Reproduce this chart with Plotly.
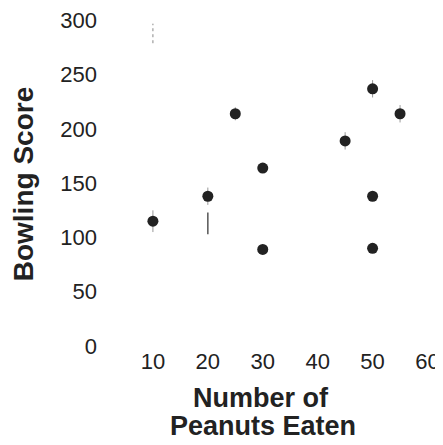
import plotly.graph_objects as go

peanuts = [10, 20, 25, 30, 30, 45, 50, 50, 50, 55]
scores = [115, 138, 214, 164, 89, 189, 237, 138, 90, 214]
# faint whiskers visible around some points
whisker = [10, 8, 6, 0, 0, 8, 8, 0, 0, 8]

# stray vertical marks visible in the figure
mark1_x = [10, 10]
mark1_y = [279, 297]
mark2_x = [20, 20]
mark2_y = [103, 123]

x_ticks = [10, 20, 30, 40, 50, 60]
y_ticks = [0, 50, 100, 150, 200, 250, 300]

x_title_lines = ["Number of", "Peanuts Eaten"]
y_title = "Bowling Score"

fig = go.Figure()
fig.add_trace(go.Scatter(x=mark1_x, y=mark1_y, mode="lines",
                         line=dict(color="#888888", width=1, dash="dot"),
                         showlegend=False, hoverinfo="skip"))
fig.add_trace(go.Scatter(x=mark2_x, y=mark2_y, mode="lines",
                         line=dict(color="#555555", width=1.5),
                         showlegend=False, hoverinfo="skip"))
fig.add_trace(go.Scatter(x=peanuts, y=scores, mode="markers",
                         marker=dict(color="#222222", size=11),
                         error_y=dict(type="data", array=whisker, visible=True,
                                      color="#999999", thickness=1, width=0),
                         showlegend=False))

fig.update_layout(
    width=435, height=437,
    margin=dict(l=89.5, r=10, t=7, b=99.3),
    plot_bgcolor="white", paper_bgcolor="white",
    font=dict(family="Liberation Sans, Arial, sans-serif", color="#222222"),
)
fig.update_xaxes(range=[0, 61], tickvals=x_ticks, showgrid=False, zeroline=False,
                 showline=False, ticks="", tickfont=dict(size=22), automargin=False)
fig.update_yaxes(range=[0, 305], tickvals=y_ticks, showgrid=False, zeroline=False,
                 showline=False, ticks="", tickfont=dict(size=22), automargin=False)

fig.add_annotation(text="<b>" + y_title + "</b>", xref="paper", yref="paper",
                   x=-0.2235, y=0.489, xanchor="center", yanchor="middle",
                   textangle=-90, showarrow=False, font=dict(size=28))
fig.add_annotation(text="<b>" + x_title_lines[0] + "</b>", xref="paper", yref="paper",
                   x=0.486, y=-0.1567, xanchor="center", yanchor="middle",
                   showarrow=False, font=dict(size=27))
fig.add_annotation(text="<b>" + x_title_lines[1] + "</b>", xref="paper", yref="paper",
                   x=0.493, y=-0.2414, xanchor="center", yanchor="middle",
                   showarrow=False, font=dict(size=27))

fig.write_html("out.html")
